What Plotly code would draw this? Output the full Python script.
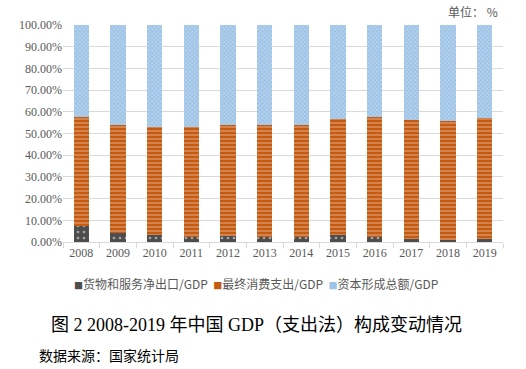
import plotly.graph_objects as go

years = ["2008", "2009", "2010", "2011", "2012", "2013", "2014", "2015", "2016", "2017", "2018", "2019"]
net_exports = [7.5, 4.1, 3.3, 2.3, 2.7, 2.3, 2.4, 3.2, 2.2, 1.6, 0.8, 1.2]
consumption = [50.0, 49.9, 49.5, 50.5, 51.2, 51.4, 51.5, 53.4, 55.2, 54.8, 55.0, 55.8]
capital = [42.5, 46.0, 47.2, 47.2, 46.1, 46.3, 46.1, 43.4, 42.6, 43.6, 44.2, 43.0]

names = ["货物和服务净出口/GDP", "最终消费支出/GDP", "资本形成总额/GDP"]
colors = ["#4d4d4d", "#c55a11", "#9dc3e6"]
title_text = "图 2 2008-2019 年中国 GDP（支出法）构成变动情况"
source_text = "数据来源：国家统计局"
unit_text = "单位： %"

fig = go.Figure()
fig.add_trace(go.Bar(
    x=years, y=net_exports, name=names[0],
    marker=dict(color=colors[0], line=dict(width=0),
                pattern=dict(shape=".", fgcolor="#ffffff", bgcolor=colors[0], size=6, solidity=0.15)),
))
fig.add_trace(go.Bar(
    x=years, y=consumption, name=names[1],
    marker=dict(color=colors[1], line=dict(width=0),
                pattern=dict(shape="-", fgcolor="#ffffff", bgcolor=colors[1], size=4, solidity=0.25)),
))
fig.add_trace(go.Bar(
    x=years, y=capital, name=names[2],
    marker=dict(color=colors[2], line=dict(width=0),
                pattern=dict(shape="x", fgcolor="#ffffff", bgcolor=colors[2], size=3, solidity=0.3)),
))

legend_html = "  ".join(
    f"<span style='font-size:9px;color:{c}'>■</span>{n}" for c, n in zip(colors, names)
)

W, H = 526, 369
L, R, T, B = 63, 23, 25, 127
PW, PH = W - L - R, H - T - B

def px(x):
    return (x - L) / PW

def py(y):
    return (H - B - y) / PH

fig.update_layout(
    barmode="stack",
    bargap=0.59,
    width=W, height=H,
    margin=dict(l=L, r=R, t=T, b=B),
    paper_bgcolor="white", plot_bgcolor="white",
    showlegend=False,
    font=dict(family="Liberation Serif, Noto Sans CJK SC", color="#595959", size=12),
    xaxis=dict(showgrid=False, showline=True, linecolor="#d9d9d9", linewidth=1,
               ticks="outside", tickson="boundaries", ticklen=5, tickcolor="#d9d9d9",
               tickfont=dict(family="Liberation Serif, Times New Roman, serif", size=12, color="#595959")),
    yaxis=dict(range=[0, 100], dtick=10, tickformat=".2f", ticksuffix="%",
               showgrid=True, gridcolor="#d9d9d9", gridwidth=1, zeroline=False,
               tickfont=dict(family="Liberation Serif, Times New Roman, serif", size=12, color="#595959")),
    annotations=[
        dict(text=unit_text, xref="paper", yref="paper", x=px(500), y=py(12), xanchor="right", yanchor="middle",
             showarrow=False, font=dict(family="Noto Sans CJK SC", size=12, color="#595959")),
        dict(text=legend_html, xref="paper", yref="paper", x=px(256), y=py(283),
             xanchor="center", yanchor="middle", showarrow=False,
             font=dict(family="Noto Sans CJK SC", size=12, color="#595959")),
        dict(text=title_text, xref="paper", yref="paper",
             x=px(256.5), y=py(325), xanchor="center", yanchor="middle", showarrow=False,
             font=dict(family="Liberation Serif, Noto Sans CJK SC", size=18, color="#000000")),
        dict(text=source_text, xref="paper", yref="paper",
             x=px(37), y=py(355), xanchor="left", yanchor="middle", showarrow=False,
             font=dict(family="Noto Sans CJK SC", size=14, color="#000000")),
    ],
)

fig.write_html("out.html", config={"displayModeBar": False},
               post_script="document.body.style.margin='0';")
